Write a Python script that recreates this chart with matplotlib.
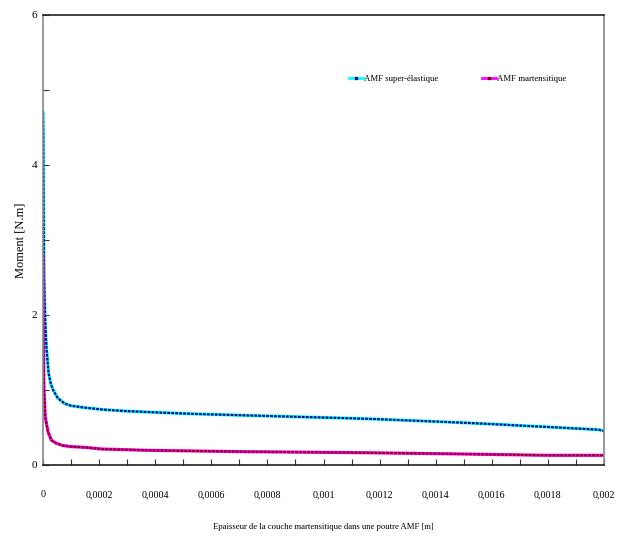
import matplotlib
matplotlib.use("Agg")
import matplotlib.pyplot as plt
from matplotlib.ticker import MultipleLocator, FixedLocator, FixedFormatter
from matplotlib.lines import Line2D

# Thickness of martensitic layer [m] and moment [N.m]
x_super = [0, 1e-6, 2e-6, 4e-6, 8e-6, 1.2e-5, 2e-5, 2.8e-5, 3.6e-5, 5.3e-5, 7.7e-5,
           1.0e-4, 1.5e-4, 2.1e-4, 2.9e-4, 4.1e-4, 5.5e-4, 7.2e-4, 8.9e-4, 1.06e-3,
           1.18e-3, 1.29e-3, 1.41e-3, 1.52e-3, 1.62e-3, 1.71e-3, 1.80e-3, 1.89e-3, 1.98e-3, 2.0e-3]
y_super = [4.7, 4.4, 3.5, 2.5, 1.9, 1.58, 1.22, 1.08, 1.0, 0.89, 0.82,
           0.79, 0.764, 0.74, 0.72, 0.70, 0.68, 0.662, 0.644, 0.627,
           0.613, 0.596, 0.578, 0.56, 0.542, 0.524, 0.507, 0.489, 0.471, 0.453]

x_mart = [0, 1e-6, 2e-6, 3.6e-6, 8e-6, 1.8e-5, 3e-5, 4.7e-5, 7e-5, 1.0e-4, 1.5e-4,
          2.1e-4, 3.7e-4, 7.1e-4, 1.14e-3, 1.49e-3, 1.80e-3, 2.0e-3]
y_mart = [2.8, 2.2, 1.58, 1.0, 0.64, 0.44, 0.33, 0.29, 0.26, 0.245, 0.235,
          0.213, 0.196, 0.178, 0.164, 0.147, 0.129, 0.129]

labels = ["AMF super-élastique", "AMF martensitique"]
x_tick_vals = [0, 0.0002, 0.0004, 0.0006, 0.0008, 0.001, 0.0012, 0.0014, 0.0016, 0.0018, 0.002]
x_tick_labels = ["0", "0,0002", "0,0004", "0,0006", "0,0008", "0,001", "0,0012",
                 "0,0014", "0,0016", "0,0018", "0,002"]
y_tick_vals = [0, 2, 4, 6]
y_tick_labels = ["0", "2", "4", "6"]

plt.rcParams['font.family'] = ['Liberation Serif', 'DejaVu Serif']

fig = plt.figure(figsize=(6.24, 5.38), dpi=100)
ax = fig.add_axes([43/624, 1-465/538, (604-43)/624, (465-15)/538])

ax.plot(x_super, y_super, color='#00ffff', lw=2.3, solid_joinstyle='round')
ax.plot(x_super, y_super, color='#000080', lw=1.5, linestyle=(0, (1.3, 0.6)))
ax.plot(x_mart, y_mart, color='#ff00ff', lw=2.3, solid_joinstyle='round')
ax.plot(x_mart, y_mart, color='#800000', lw=1.5, linestyle=(0, (1.3, 0.6)))

# legend proxies
h1 = Line2D([], [], color='#00ffff', lw=2, marker='s', ms=2, mfc='#000080', mec='#000080')
h2 = Line2D([], [], color='#ff00ff', lw=2, marker='s', ms=2, mfc='#800000', mec='#800000')
ax.legend([h1, h2], labels, ncol=2, frameon=False, fontsize=6.3, handlelength=1.6,
          handletextpad=0.15, columnspacing=5.0, loc='upper left',
          bbox_to_anchor=(302/561, 1-56/450), borderaxespad=0)

ax.set_xlim(0, 0.002)
ax.set_ylim(0, 6)
ax.xaxis.set_major_locator(FixedLocator(x_tick_vals))
ax.xaxis.set_major_formatter(FixedFormatter(x_tick_labels))
ax.xaxis.set_minor_locator(MultipleLocator(0.0001))
ax.yaxis.set_major_locator(FixedLocator(y_tick_vals))
ax.yaxis.set_major_formatter(FixedFormatter(y_tick_labels))
ax.yaxis.set_minor_locator(MultipleLocator(1))

ax.tick_params(which='both', direction='in', length=4, width=0.8, colors='#333333')
ax.tick_params(axis='x', which='major', pad=18, labelsize=7.2, labelcolor='black')
ax.tick_params(axis='y', which='major', pad=4, labelsize=8, labelcolor='black')
ax.tick_params(which='minor', length=4)

for s in ['left', 'right']:
    ax.spines[s].set_color('#888888')
    ax.spines[s].set_linewidth(1.2)
for s in ['top', 'bottom']:
    ax.spines[s].set_color('#222222')
    ax.spines[s].set_linewidth(1.2)

ax.set_xlabel("Epaisseur de la couche martensitique dans une poutre AMF [m]", fontsize=6.2, labelpad=17)
ax.set_ylabel("Moment [N.m]", fontsize=9, labelpad=4)

fig.savefig("out.png", dpi=100)
